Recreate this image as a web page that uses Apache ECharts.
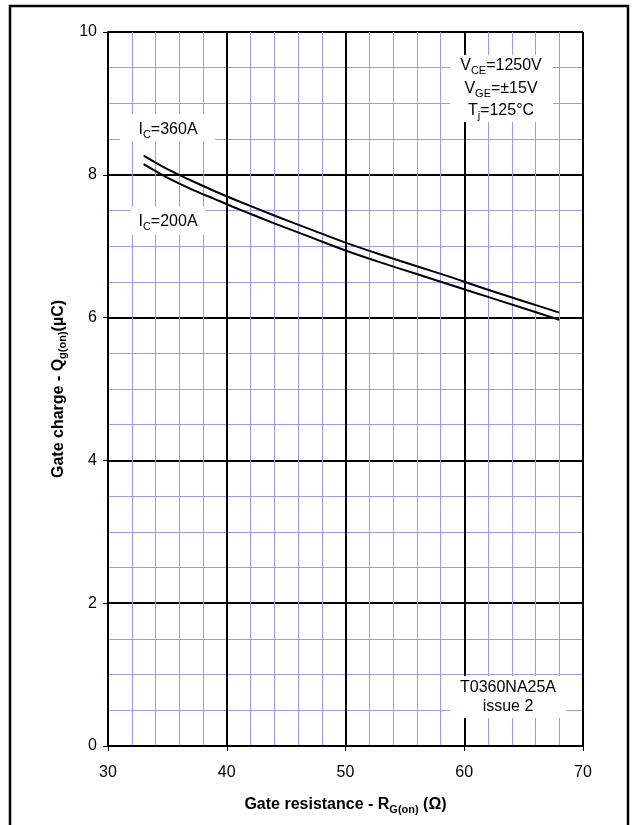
<!DOCTYPE html>
<html>
<head>
<meta charset="utf-8">
<script src="https://cdn.jsdelivr.net/npm/echarts@6/dist/echarts.min.js"></script>
<style>
html,body{margin:0;padding:0;background:#fff;}
#c{width:632px;height:825px;}
</style>
</head>
<body>
<div id="c"></div>
<script>
// Gate resistance (ohm)
var rg = [33, 35, 37, 39, 41, 44, 47, 50, 53, 56, 59, 62, 65, 68];
// Gate charge (uC) for IC = 360 A
var qg360 = [8.27, 8.08, 7.92, 7.77, 7.63, 7.43, 7.24, 7.05, 6.88, 6.72, 6.56, 6.39, 6.23, 6.07];
// Gate charge (uC) for IC = 200 A
var qg200 = [8.15, 7.96, 7.80, 7.66, 7.52, 7.32, 7.13, 6.94, 6.77, 6.61, 6.45, 6.29, 6.13, 5.97];
var xTicks = [30, 40, 50, 60, 70];
var yTicks = [0, 2, 4, 6, 8, 10];

var FONT = 'Arial, "Liberation Sans", sans-serif';
function zip(xs, ys) { return xs.map(function (x, i) { return [x, ys[i]]; }); }

var chart = echarts.init(document.getElementById('c'), null, {renderer: 'canvas'});
var richN = {fontSize: 16, fontFamily: FONT, color: '#000', lineHeight: 20};
var richS = {fontSize: 11, fontFamily: FONT, color: '#000', lineHeight: 9, verticalAlign: 'bottom'};
function rich() {
  return {n: Object.assign({}, richN), s: Object.assign({}, richS)};
}
function label(x, y, text) {
  return {type: 'text', x: x, y: y, z: 100,
    style: {text: text, rich: rich(), align: 'center', verticalAlign: 'middle', fill: '#000'}};
}
function box(x, y, w, h) {
  return {type: 'rect', z: 90, shape: {x: x, y: y, width: w, height: h}, style: {fill: '#fff'}};
}
var nameRich = {
  b: {fontSize: 16, fontWeight: 'bold', fontFamily: FONT, color: '#000', lineHeight: 20},
  bs: {fontSize: 11, fontWeight: 'bold', fontFamily: FONT, color: '#000', lineHeight: 9, verticalAlign: 'bottom'}
};

var option = {
  backgroundColor: '#fff',
  animation: false,
  grid: {left: 108, right: 49, top: 32, bottom: 79, containLabel: false, outerBoundsMode: 'none'},
  xAxis: {
    type: 'value', min: xTicks[0], max: xTicks[xTicks.length - 1], interval: 10,
    name: '{b|Gate resistance - R}{bs|G(on)}{b| (Ω)}',
    nameLocation: 'middle', nameGap: 49,
    nameTextStyle: {rich: nameRich},
    axisLine: {show: true, onZero: false, lineStyle: {color: '#000', width: 2}},
    axisTick: {show: true, inside: false, length: 5, lineStyle: {color: '#000', width: 1}},
    axisLabel: {fontSize: 16, fontFamily: FONT, color: '#000', margin: 19},
    splitLine: {show: true, lineStyle: {color: '#000', width: 2}},
    minorTick: {show: false, splitNumber: 5},
    minorSplitLine: {show: true, lineStyle: {color: '#9999ff', width: 1}}
  },
  yAxis: {
    type: 'value', min: yTicks[0], max: yTicks[yTicks.length - 1], interval: 2,
    name: '{b|Gate charge - Q}{bs|g(on)}{b|(µC)}',
    nameLocation: 'middle', nameGap: 38, nameRotate: 90,
    nameTextStyle: {rich: nameRich},
    axisLine: {show: true, onZero: false, lineStyle: {color: '#000', width: 2}},
    axisTick: {show: true, inside: false, length: 5, lineStyle: {color: '#000', width: 1}},
    axisLabel: {fontSize: 16, fontFamily: FONT, color: '#000', margin: 11},
    splitLine: {show: true, lineStyle: {color: '#000', width: 2}},
    minorTick: {show: false, splitNumber: 4},
    minorSplitLine: {show: true, lineStyle: {color: '#9999ff', width: 1}}
  },
  series: [
    {type: 'line', name: 'IC=360A', data: zip(rg, qg360), smooth: 0.3, showSymbol: false,
      lineStyle: {color: '#000', width: 2}, z: 50},
    {type: 'line', name: 'IC=200A', data: zip(rg, qg200), smooth: 0.3, showSymbol: false,
      lineStyle: {color: '#000', width: 2}, z: 50}
  ],
  graphic: [
    {type: 'rect', z: 200, shape: {x: 10, y: 6, width: 618, height: 900},
      style: {fill: 'none', stroke: '#000', lineWidth: 2.5}},
    {type: 'text', x: 10, y: -12, z: 200,
      style: {text: 'Figure 14 - Typical turn-on gate charge', font: '25.5px ' + FONT, fill: '#000',
        align: 'left', verticalAlign: 'middle'}},
    box(450, 55, 103, 67),
    label(501, 66, '{n|V}{s|CE}{n|=1250V}'),
    label(501, 89, '{n|V}{s|GE}{n|=±15V}'),
    label(501, 111, '{n|T}{s|j}{n|=125°C}'),
    box(120, 114, 95, 27),
    label(168, 130, '{n|I}{s|C}{n|=360A}'),
    box(130, 207, 76, 28),
    label(168, 222, '{n|I}{s|C}{n|=200A}'),
    box(450, 676, 116, 42),
    label(508, 688, '{n|T0360NA25A}'),
    label(508, 707, '{n|issue 2}')
  ]
};
chart.setOption(option);
</script>
</body>
</html>
